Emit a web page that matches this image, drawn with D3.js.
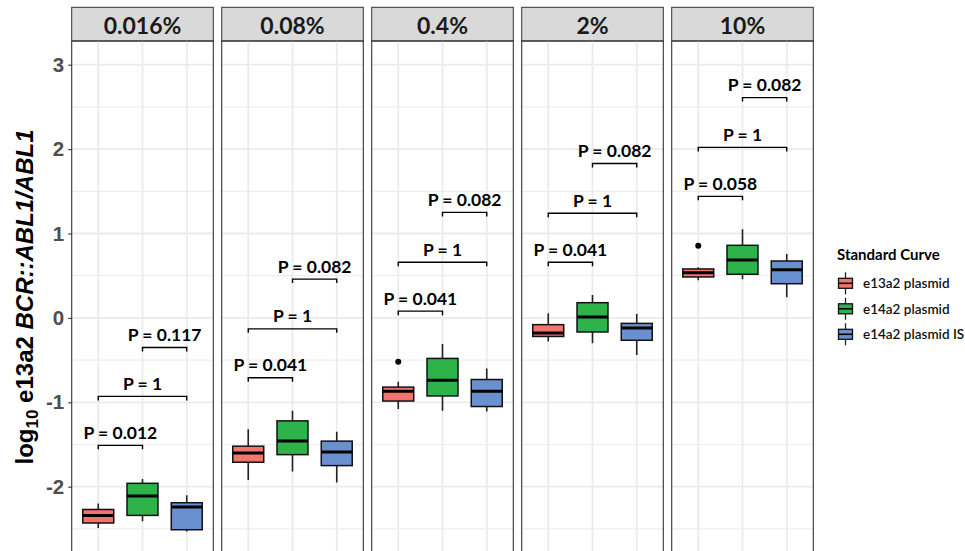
<!DOCTYPE html>
<html>
<head>
<meta charset="utf-8">
<script src="https://cdn.jsdelivr.net/npm/d3@7"></script>
<style>
  html, body { margin: 0; padding: 0; background: #fff; }
  svg { display: block; }
</style>
</head>
<body>
<svg id="chart" width="965" height="551"></svg>
<script>
// Facets (spike-in level) and the three standard curves
const panels = ["0.016%", "0.08%", "0.4%", "2%", "10%"];
const groups = ["e13a2 plasmid", "e14a2 plasmid", "e14a2 plasmid IS"];
const colors = ["#F1746D", "#2EB34B", "#6A91CF"];

// Box summaries per facet: [lower whisker, Q1, median, Q3, upper whisker]
const e13a2Plasmid = [
  [-2.49, -2.43, -2.34, -2.27, -2.20],
  [-1.92, -1.71, -1.60, -1.52, -1.32],
  [-1.08, -0.985, -0.87, -0.82, -0.756],
  [-0.28, -0.22, -0.18, -0.08, 0.054],
  [0.445, 0.485, 0.535, 0.58, 0.60]
];
const e14a2Plasmid = [
  [-2.41, -2.34, -2.11, -1.96, -1.91],
  [-1.82, -1.62, -1.46, -1.22, -1.10],
  [-1.10, -0.925, -0.74, -0.48, -0.31],
  [-0.30, -0.167, 0.01, 0.18, 0.27],
  [0.457, 0.517, 0.686, 0.86, 1.05]
];
const e14a2PlasmidIS = [
  [-2.53, -2.51, -2.24, -2.19, -2.10],
  [-1.95, -1.75, -1.59, -1.46, -1.35],
  [-1.11, -1.05, -0.87, -0.73, -0.60],
  [-0.44, -0.265, -0.12, -0.065, 0.046],
  [0.244, 0.405, 0.57, 0.674, 0.757]
];
// Outlying points: [facet index, group index, value]
const outliers = [
  [2, 0, -0.52],
  [4, 0, 0.855]
];

// Pairwise comparisons drawn as brackets
const comparisons = [[0, 1], [0, 2], [1, 2]];
const pLabels = [
  ["P = 0.012", "P = 1", "P = 0.117"],
  ["P = 0.041", "P = 1", "P = 0.082"],
  ["P = 0.041", "P = 1", "P = 0.082"],
  ["P = 0.041", "P = 1", "P = 0.082"],
  ["P = 0.058", "P = 1", "P = 0.082"]
];
const bracketHeights = [
  [-1.51, -0.93, -0.35],
  [-0.71, -0.13, 0.46],
  [0.08, 0.66, 1.25],
  [0.66, 1.24, 1.83],
  [1.44, 2.02, 2.61]
];

const yTicks = [-2, -1, 0, 1, 2, 3];
const yTickLabels = ["-2", "-1", "0", "1", "2", "3"];
const yMinor = [-2.5, -1.5, -0.5, 0.5, 1.5, 2.5];

const series = [e13a2Plasmid, e14a2Plasmid, e14a2PlasmidIS];

// ---- layout ----
const svg = d3.select("#chart");
const panelLeft = 71.7, panelW = 141.6, panelGap = 8.4;
const stripTop = 7.3, stripH = 33.7;
const plotTop = stripTop + stripH;
const plotBottom = 600;

const y = d3.scaleLinear().domain([0, 3]).range([317.9, 64.7]);
const x = d3.scalePoint().domain(d3.range(groups.length)).range([0, panelW]).padding(0.6);
const step = x.step();
const boxW = step * 0.7;

const clipId = "plotclip";
svg.append("defs").append("clipPath").attr("id", clipId)
  .append("rect").attr("x", 0).attr("y", 0).attr("width", panelW).attr("height", plotBottom - plotTop);

panels.forEach((name, pi) => {
  const px = panelLeft + pi * (panelW + panelGap);
  const g = svg.append("g").attr("transform", `translate(${px},0)`);

  // strip
  g.append("rect")
    .attr("x", 0).attr("y", stripTop).attr("width", panelW).attr("height", stripH)
    .attr("fill", "#D9D9D9").attr("stroke", "#333").attr("stroke-width", 1);
  g.append("text")
    .attr("x", panelW / 2).attr("y", stripTop + stripH / 2 + 0.5)
    .attr("text-anchor", "middle").attr("dominant-baseline", "central")
    .attr("font-family", "Lato, 'Open Sans', sans-serif").attr("font-weight", "bold")
    .attr("font-size", 23).attr("fill", "#1A1A1A")
    .text(name);

  const body = g.append("g").attr("transform", `translate(0,${plotTop})`);
  const inner = body.append("g").attr("clip-path", `url(#${clipId})`)
    .append("g").attr("transform", `translate(0,${-plotTop})`);

  // grid
  inner.selectAll(".minor").data(yMinor).join("line")
    .attr("x1", 0).attr("x2", panelW)
    .attr("y1", d => y(d)).attr("y2", d => y(d))
    .attr("stroke", "#EEEEEE").attr("stroke-width", 1.2);
  inner.selectAll(".major").data(yTicks).join("line")
    .attr("x1", 0).attr("x2", panelW)
    .attr("y1", d => y(d)).attr("y2", d => y(d))
    .attr("stroke", "#EBEBEB").attr("stroke-width", 1.8);
  inner.selectAll(".vgrid").data(d3.range(groups.length)).join("line")
    .attr("x1", d => x(d)).attr("x2", d => x(d))
    .attr("y1", plotTop).attr("y2", plotBottom)
    .attr("stroke", "#EBEBEB").attr("stroke-width", 1.8);

  // boxes
  series.forEach((s, gi) => {
    const [lo, q1, med, q3, hi] = s[pi];
    const cx = x(gi);
    inner.append("line")
      .attr("x1", cx).attr("x2", cx).attr("y1", y(hi)).attr("y2", y(q3))
      .attr("stroke", "#222").attr("stroke-width", 1.6);
    inner.append("line")
      .attr("x1", cx).attr("x2", cx).attr("y1", y(q1)).attr("y2", y(lo))
      .attr("stroke", "#222").attr("stroke-width", 1.6);
    inner.append("rect")
      .attr("x", cx - boxW / 2).attr("width", boxW)
      .attr("y", y(q3)).attr("height", y(q1) - y(q3))
      .attr("fill", colors[gi]).attr("stroke", "#111").attr("stroke-width", 1.5);
    inner.append("line")
      .attr("x1", cx - boxW / 2).attr("x2", cx + boxW / 2)
      .attr("y1", y(med)).attr("y2", y(med))
      .attr("stroke", "#000").attr("stroke-width", 3);
  });

  outliers.filter(o => o[0] === pi).forEach(o => {
    inner.append("circle")
      .attr("cx", x(o[1])).attr("cy", y(o[2])).attr("r", 3)
      .attr("fill", "#000");
  });

  // significance brackets
  comparisons.forEach((c, ci) => {
    const h = bracketHeights[pi][ci];
    const x1 = x(c[0]), x2 = x(c[1]);
    const yy = y(h);
    const tick = 4;
    inner.append("path")
      .attr("d", `M${x1},${yy + tick}V${yy}H${x2}V${yy + tick}`)
      .attr("fill", "none").attr("stroke", "#000").attr("stroke-width", 1.4);
    inner.append("text")
      .attr("x", (x1 + x2) / 2).attr("y", yy - 6.5)
      .attr("text-anchor", "middle")
      .attr("font-family", "Lato, 'Open Sans', sans-serif").attr("font-weight", "bold")
      .attr("font-size", 17.5).attr("fill", "#000")
      .text(pLabels[pi][ci]);
  });

  // panel border
  g.append("rect")
    .attr("x", 0).attr("y", plotTop).attr("width", panelW).attr("height", plotBottom - plotTop)
    .attr("fill", "none").attr("stroke", "#333").attr("stroke-width", 1.1);

  // y axis on first facet only
  if (pi === 0) {
    const ax = g.append("g")
      .call(d3.axisLeft(y).tickValues(yTicks).tickSize(3.5).tickPadding(4)
        .tickFormat((d, i) => yTickLabels[i]));
    ax.select(".domain").remove();
    ax.selectAll(".tick line").attr("stroke", "#333").attr("stroke-width", 1.1);
    ax.selectAll(".tick text")
      .attr("font-family", "'Liberation Sans', Arial, sans-serif").attr("font-weight", "bold")
      .attr("font-size", 20.5).attr("fill", "#4D4D4D");
  }
});

// y axis title
const title = svg.append("text")
  .attr("transform", "translate(32.5,297) rotate(-90)")
  .attr("text-anchor", "middle")
  .attr("font-family", "'Liberation Sans', Arial, sans-serif").attr("font-weight", "bold")
  .attr("font-size", 24).attr("fill", "#000");
title.append("tspan").text("log");
title.append("tspan").attr("font-size", 17).attr("dy", 5).text("10");
title.append("tspan").attr("dy", -5).text(" e13a2 ");
title.append("tspan").attr("font-style", "italic").text("BCR::ABL1/ABL1");

// legend
const leg = svg.append("g").attr("transform", "translate(837,0)");
leg.append("text")
  .attr("x", 0).attr("y", 260)
  .attr("font-family", "Lato, 'Open Sans', sans-serif").attr("font-weight", "bold")
  .attr("font-size", 15).attr("fill", "#000")
  .text("Standard Curve");
groups.forEach((name, gi) => {
  const cy = 283.3 + gi * 25.5;
  const kx = 8.5;
  leg.append("line")
    .attr("x1", kx).attr("x2", kx).attr("y1", cy - 11).attr("y2", cy + 11)
    .attr("stroke", "#222").attr("stroke-width", 1.3);
  leg.append("rect")
    .attr("x", 1.5).attr("y", cy - 5).attr("width", 14).attr("height", 10)
    .attr("fill", colors[gi]).attr("stroke", "#111").attr("stroke-width", 1.3);
  leg.append("line")
    .attr("x1", 1.5).attr("x2", 15.5).attr("y1", cy).attr("y2", cy)
    .attr("stroke", "#000").attr("stroke-width", 1.6);
  leg.append("text")
    .attr("x", 26).attr("y", cy).attr("dominant-baseline", "central")
    .attr("font-family", "Lato, 'Open Sans', sans-serif").attr("font-weight", 600)
    .attr("font-size", 13.5).attr("fill", "#111")
    .text(name);
});
</script>
</body>
</html>
